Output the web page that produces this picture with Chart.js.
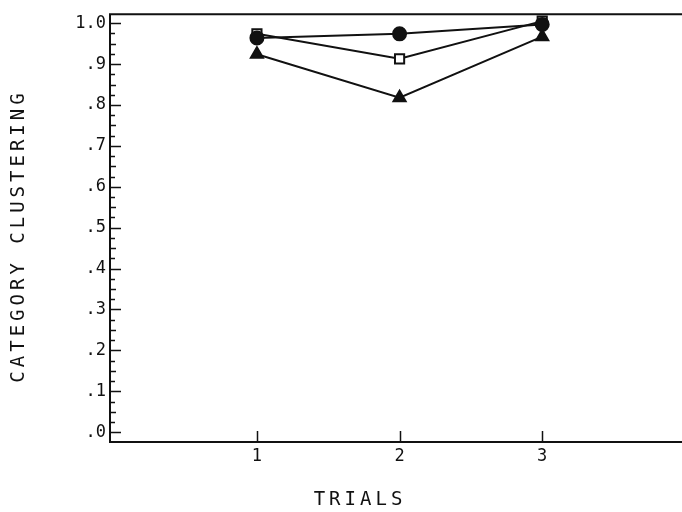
<!DOCTYPE html>
<html>
<head>
<meta charset="utf-8">
<script src="https://cdn.jsdelivr.net/npm/chart.js@4.4.0/dist/chart.umd.min.js"></script>
<style>
  html, body { margin: 0; padding: 0; background: #fff; }
  #wrap { width: 682px; height: 512px; }
</style>
</head>
<body>
<div id="wrap"><canvas id="clusterChart"></canvas></div>
<script>
// data
var trials = [1, 2, 3];
var circleVals = [0.964, 0.974, 0.997];
var squareVals = [0.974, 0.913, 1.005];
var triangleVals = [0.924, 0.818, 0.967];
var yTicks = [0, 0.1, 0.2, 0.3, 0.4, 0.5, 0.6, 0.7, 0.8, 0.9, 1.0];
var yTickLabels = [".0", ".1", ".2", ".3", ".4", ".5", ".6", ".7", ".8", ".9", "1.0"];
var xTitle = "TRIALS";
var yTitle = "CATEGORY CLUSTERING";

function pts(vals) {
  return trials.map(function (t, i) { return { x: t, y: vals[i] }; });
}

var ink = '#111';
var tickFont = { family: 'DejaVu Sans Mono', size: 17 };

// frame, inward tick marks and spaced-out axis titles
var framePlugin = {
  id: 'frame',
  afterDraw: function (chart) {
    var ctx = chart.ctx, a = chart.chartArea;
    var xs = chart.scales.x, ys = chart.scales.y;
    ctx.save();
    ctx.strokeStyle = ink;
    ctx.lineWidth = 2;
    ctx.beginPath();
    ctx.moveTo(chart.width, a.top); ctx.lineTo(a.left, a.top);
    ctx.lineTo(a.left, a.bottom); ctx.lineTo(chart.width, a.bottom);
    ctx.stroke();

    ctx.lineWidth = 1.5;
    ctx.beginPath();
    for (var k = 0; k <= 40; k++) {
      var v = k * 0.025;
      var y = Math.round(ys.getPixelForValue(v)) + 0.5;
      var len = (k % 4 === 0) ? 11 : (k % 2 === 0 ? 6 : 5);
      ctx.moveTo(a.left, y); ctx.lineTo(a.left + len, y);
    }
    trials.forEach(function (t) {
      var x = Math.round(xs.getPixelForValue(t)) + 0.5;
      ctx.moveTo(x, a.bottom); ctx.lineTo(x, a.bottom - 11);
    });
    ctx.stroke();

    ctx.fillStyle = ink;
    ctx.font = '19px "DejaVu Sans Mono"';
    ctx.letterSpacing = '4px';
    ctx.textAlign = 'center';
    ctx.textBaseline = 'middle';
    ctx.fillText(xTitle, 360, 500);
    ctx.translate(19, 236);
    ctx.rotate(-Math.PI / 2);
    ctx.fillText(yTitle, 0, 0);
    ctx.restore();
  }
};

var ctx = document.getElementById('clusterChart');
var chart = new Chart(ctx, {
  type: 'line',
  data: {
    datasets: [{
      label: 'circle',
      data: pts(circleVals),
      borderColor: ink,
      borderWidth: 2,
      pointStyle: 'circle',
      pointRadius: 6.5,
      pointBackgroundColor: ink,
      pointBorderColor: ink
    }, {
      label: 'square',
      data: pts(squareVals),
      borderColor: ink,
      borderWidth: 2,
      pointStyle: 'rect',
      pointRadius: 6.5,
      pointBackgroundColor: '#fff',
      pointBorderColor: ink,
      pointBorderWidth: 2
    }, {
      label: 'triangle',
      data: pts(triangleVals),
      borderColor: ink,
      borderWidth: 2,
      pointStyle: 'triangle',
      pointRadius: 7,
      pointBackgroundColor: ink,
      pointBorderColor: ink
    }]
  },
  options: {
    responsive: true,
    maintainAspectRatio: false,
    animation: false,
    layout: { autoPadding: false, padding: { top: 13, right: 0, left: 0, bottom: 0 } },
    plugins: { legend: { display: false }, tooltip: { enabled: false } },
    scales: {
      x: {
        type: 'linear',
        min: -0.03,
        max: 3.98,
        grid: { display: false, drawTicks: false },
        border: { display: false },
        afterBuildTicks: function (s) { s.ticks = trials.map(function (t) { return { value: t }; }); },
        afterFit: function (s) { s.height = 70; },
        ticks: {
          color: ink,
          font: tickFont,
          padding: 4,
          maxRotation: 0,
          callback: function (v) { return String(v); }
        }
      },
      y: {
        min: -0.024,
        max: 1.022,
        grid: { display: false, drawTicks: false },
        border: { display: false },
        afterBuildTicks: function (s) { s.ticks = yTicks.map(function (t) { return { value: t }; }); },
        afterFit: function (s) { s.width = 110; },
        ticks: {
          color: ink,
          font: tickFont,
          padding: 4,
          callback: function (v) { return yTickLabels[yTicks.indexOf(v)]; }
        }
      }
    }
  },
  plugins: [framePlugin]
});
</script>
</body>
</html>
